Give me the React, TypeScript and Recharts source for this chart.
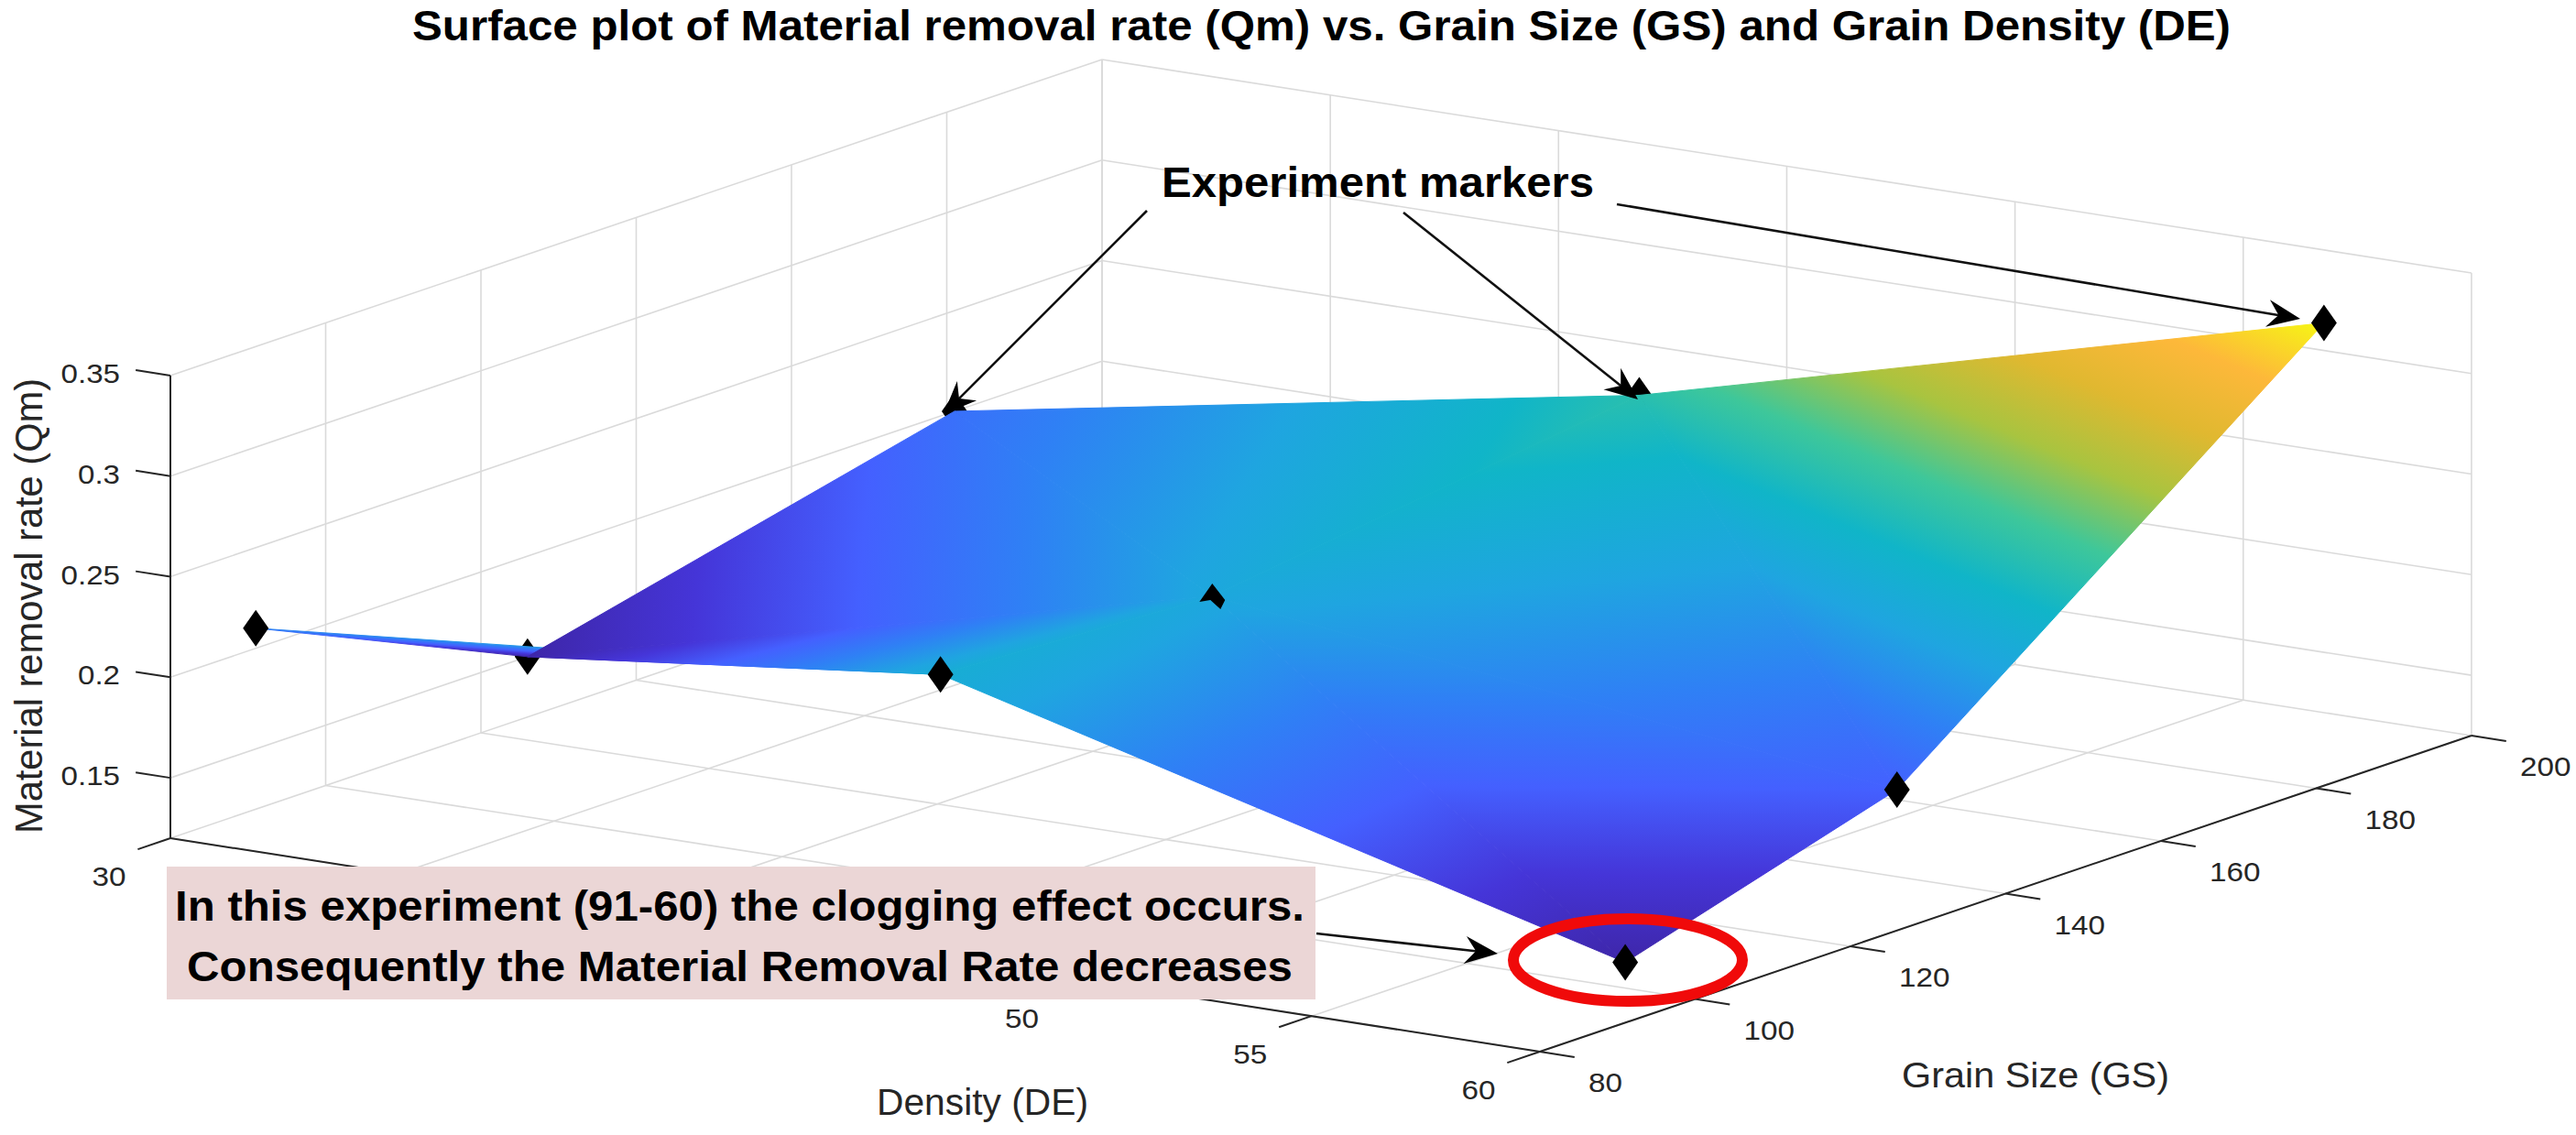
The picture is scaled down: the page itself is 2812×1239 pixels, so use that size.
import React from "react";
import { ReferenceLine, Scatter, ScatterChart, XAxis, YAxis } from "recharts";

const WIDTH = 2812;
const HEIGHT = 1239;

// axis ticks
const deTicks = [30, 35, 40, 45, 50, 55, 60];
const gsTicks = [80, 100, 120, 140, 160, 180, 200];
const qmTicks = [0.15, 0.2, 0.25, 0.3, 0.35];
const qmTickLabels = ["0.15", "0.2", "0.25", "0.3", "0.35"];
// 35, 40 and 45 sit under the pink note box in the figure
const deTickLabels = [30, 50, 55, 60];

// experiments: density x grain size
const deLevels = [30, 45, 60];
const gsLevels = [91, 126, 181];
const qmDe30 = [0.21, 0.15, 0.2];
const qmDe45 = [0.24, 0.233, 0.261];
const qmDe60 = [0.15, 0.19, 0.35];
const qmRows = [qmDe30, qmDe45, qmDe60];

// colormap as it looks in the figure
const parulaStops = [
  "#3e26a8", "#4535d8", "#4460ff", "#2f80f5", "#1fa5e0", "#10b5c8",
  "#3ec79a", "#a8c440", "#e0b830", "#fdb83a", "#f6f714",
];
const QM_FLOOR = 0.12;
const QM_TOP = 0.35;
const CLIM = [0.15, 0.35];

// the box is an orthographic view, one unit of each variable moves a fixed distance
function project(de: number, gs: number, qm: number) {
  return {
    x: 186 + (de - 30) * 49.83 + (gs - 80) * 8.475,
    y: 915 + (de - 30) * 7.767 - (gs - 80) * 2.875 - (qm - QM_FLOOR) * 2196,
  };
}

type Pt = { x: number; y: number };
const seg = (a: Pt, b: Pt) => [a, b] as [Pt, Pt];

const gridSegments: [Pt, Pt][] = [
  // floor
  ...deTicks.map((d) => seg(project(d, 80, QM_FLOOR), project(d, 200, QM_FLOOR))),
  ...gsTicks.map((g) => seg(project(30, g, QM_FLOOR), project(60, g, QM_FLOOR))),
  // wall at DE = 30
  ...gsTicks.slice(1).map((g) => seg(project(30, g, QM_FLOOR), project(30, g, QM_TOP))),
  ...qmTicks.map((q) => seg(project(30, 80, q), project(30, 200, q))),
  // wall at GS = 200
  ...deTicks.map((d) => seg(project(d, 200, QM_FLOOR), project(d, 200, QM_TOP))),
  ...qmTicks.map((q) => seg(project(30, 200, q), project(60, 200, q))),
];

const axisSegments: [Pt, Pt][] = [
  seg(project(30, 80, QM_FLOOR), project(30, 80, QM_TOP)),
  seg(project(30, 80, QM_FLOOR), project(60, 80, QM_FLOOR)),
  seg(project(60, 80, QM_FLOOR), project(60, 200, QM_FLOOR)),
  ...deTicks.map((d) => seg(project(d, 80, QM_FLOOR), project(d, 75.8, QM_FLOOR))),
  ...gsTicks.map((g) => seg(project(60, g, QM_FLOOR), project(60.76, g, QM_FLOOR))),
  ...qmTicks.map((q) => seg(project(30, 80, q), project(29.24, 80, q))),
];

const vertex = (i: number, j: number) => {
  const p = project(deLevels[i], gsLevels[j], qmRows[i][j]);
  return { ...p, qm: qmRows[i][j], i, j };
};

// index triples into the 3x3 grid
const cellIndex = [
  [[0, 0], [0, 1], [1, 0]],
  [[0, 1], [1, 1], [1, 0]],
  [[0, 1], [0, 2], [1, 1]],
  [[0, 2], [1, 2], [1, 1]],
  [[1, 0], [1, 1], [2, 0]],
  [[1, 1], [2, 1], [2, 0]],
  [[1, 1], [1, 2], [2, 1]],
  [[1, 2], [2, 2], [2, 1]],
];
const surfaceCells = cellIndex.map((c, id) => {
  const v = c.map(([i, j]) => vertex(i, j));
  return { x: v[0].x, y: v[0].y, v, id };
});

const markers = deLevels.flatMap((_, i) => gsLevels.map((_g, j) => vertex(i, j)));
const isBehind = (m: { i: number; j: number }) =>
  (m.i === 0 && m.j > 0) || (m.i === 1 && m.j === 2);
const markersBehind = markers.filter(isBehind);
const markersFront = markers.filter((m) => !isBehind(m));

const tickLabels = [
  ...deTickLabels.map((d) => {
    const p = project(d, 80, QM_FLOOR);
    return { x: p.x - 67, y: p.y + 41, text: String(d), anchor: "middle" };
  }),
  ...gsTicks.map((g) => {
    const p = project(60, g, QM_FLOOR);
    return { x: p.x + 53, y: p.y + 33, text: String(g), anchor: "start" };
  }),
  ...qmTicks.map((q, k) => {
    const p = project(30, 80, q);
    return { x: 131, y: p.y - 3, text: qmTickLabels[k], anchor: "end" };
  }),
];

function SurfaceCell(props: any) {
  const { cx, cy, payload } = props;
  const v = payload.v;
  const dx = (k: number) => cx + v[k].x - v[0].x;
  const dy = (k: number) => cy + v[k].y - v[0].y;
  const t = v.map((p: any) => (p.qm - CLIM[0]) / (CLIM[1] - CLIM[0]));
  const ax = v[1].x - v[0].x;
  const ay = v[1].y - v[0].y;
  const bx = v[2].x - v[0].x;
  const by = v[2].y - v[0].y;
  const det = ax * by - ay * bx;
  const gx = ((t[1] - t[0]) * by - (t[2] - t[0]) * ay) / det;
  const gy = ((t[2] - t[0]) * ax - (t[1] - t[0]) * bx) / det;
  const n = gx * gx + gy * gy;
  const x1 = cx - (t[0] * gx) / n;
  const y1 = cy - (t[0] * gy) / n;
  const id = `cell${payload.id}`;
  return (
    <g>
      <defs>
        <linearGradient id={id} gradientUnits="userSpaceOnUse" x1={x1} y1={y1} x2={x1 + gx / n} y2={y1 + gy / n}>
          {parulaStops.map((c, k) => (
            <stop key={k} offset={k / (parulaStops.length - 1)} stopColor={c} />
          ))}
        </linearGradient>
      </defs>
      <polygon
        points={[0, 1, 2].map((k) => `${dx(k)},${dy(k)}`).join(" ")}
        fill={`url(#${id})`}
        stroke={`url(#${id})`}
        strokeWidth={1}
      />
    </g>
  );
}

function Diamond(props: any) {
  const { cx, cy } = props;
  return (
    <polygon
      points={`${cx},${cy - 20} ${cx + 14},${cy} ${cx},${cy + 20} ${cx - 14},${cy}`}
      fill="#000"
    />
  );
}

// sits half way into the surface, only the top shows
function DiamondHidden(props: any) {
  const { cx, cy, payload } = props;
  if (payload.i === 1 && payload.j === 1) {
    return (
      <polygon
        points={`${cx},${cy - 14} ${cx + 14},${cy + 4} ${cx + 9},${cy + 14} ${cx - 2},${cy + 4} ${cx - 14},${cy + 6}`}
        fill="#000"
      />
    );
  }
  return <Diamond {...props} />;
}

function TickText(props: any) {
  const { cx, cy, payload } = props;
  const len = payload.text.replace(".", "").length * 18.5 + (payload.text.includes(".") ? 9 : 0);
  return (
    <text
      x={cx}
      y={cy + 11}
      textAnchor={payload.anchor}
      fontFamily="Liberation Sans"
      fontSize={30}
      fill="#262626"
      textLength={len}
      lengthAdjust="spacingAndGlyphs"
    >
      {payload.text}
    </text>
  );
}

function Arrow({ x1, y1, x2, y2 }: { x1: number; y1: number; x2: number; y2: number }) {
  const a = Math.atan2(y2 - y1, x2 - x1);
  const ux = Math.cos(a);
  const uy = Math.sin(a);
  const at = (back: number, side: number) =>
    `${x2 - ux * back - uy * side},${y2 - uy * back + ux * side}`;
  return (
    <g>
      <line x1={x1} y1={y1} x2={x2 - ux * 20} y2={y2 - uy * 20} stroke="#111" strokeWidth={2.6} />
      <polygon points={`${at(0, 0)} ${at(36, 15)} ${at(24, 0)} ${at(36, -15)}`} fill="#000" />
    </g>
  );
}

function Overlay() {
  const font = "Liberation Sans";
  const bold = { fontFamily: font, fontWeight: 700, fill: "#000", lengthAdjust: "spacingAndGlyphs" } as any;
  const plain = { fontFamily: font, fill: "#262626", lengthAdjust: "spacingAndGlyphs" } as any;
  return (
    <g>
      <text {...bold} x={450} y={44} fontSize={46} textLength={1985}>
        Surface plot of Material removal rate (Qm) vs. Grain Size (GS) and Grain Density (DE)
      </text>
      <text {...plain} transform="rotate(-90 46 910)" x={46} y={910} fontSize={42} textLength={497}>
        Material removal rate (Qm)
      </text>
      <text {...plain} x={957} y={1217} fontSize={40} textLength={231}>
        Density (DE)
      </text>
      <text {...plain} x={2076} y={1187} fontSize={39} textLength={292}>
        Grain Size (GS)
      </text>
      <text {...bold} x={1268} y={215} fontSize={46} textLength={472}>
        Experiment markers
      </text>
      <Arrow x1={1252} y1={230} x2={1030} y2={452} />
      <Arrow x1={1532} y1={232} x2={1788} y2={436} />
      <Arrow x1={1765} y1={223} x2={2511} y2={348} />
      <rect x={182} y={946} width={1254} height={145} fill="#ebd6d6" />
      <text {...bold} x={191} y={1005} fontSize={46} textLength={1233}>
        In this experiment (91-60) the clogging effect occurs.
      </text>
      <text {...bold} x={204} y={1071} fontSize={46} textLength={1207}>
        Consequently the Material Removal Rate decreases
      </text>
      <Arrow x1={1437} y1={1019} x2={1635} y2={1041} />
      <ellipse cx={1777} cy={1048} rx={125} ry={45} fill="none" stroke="#f00a0a" strokeWidth={12} />
    </g>
  );
}

export default function App() {
  return (
    <div style={{ position: "absolute", left: 0, top: 0, width: WIDTH, height: HEIGHT, background: "#fff" }}>
      <ScatterChart width={WIDTH} height={HEIGHT} margin={{ top: 0, right: 0, bottom: 0, left: 0 }}>
        <XAxis type="number" dataKey="x" domain={[0, WIDTH]} hide />
        <YAxis type="number" dataKey="y" domain={[0, HEIGHT]} reversed hide />
        {gridSegments.map((s, k) => (
          <ReferenceLine key={`g${k}`} segment={s} stroke="#dadada" strokeWidth={1.6} />
        ))}
        {axisSegments.map((s, k) => (
          <ReferenceLine key={`a${k}`} segment={s} stroke="#262626" strokeWidth={2} />
        ))}
        <Scatter data={tickLabels} shape={TickText} isAnimationActive={false} />
        <Scatter data={markersBehind} shape={Diamond} isAnimationActive={false} />
        <Scatter data={surfaceCells} shape={SurfaceCell} isAnimationActive={false} />
        <Scatter data={markersFront} shape={DiamondHidden} isAnimationActive={false} />
        <Scatter data={[{ x: 0, y: 0 }]} shape={Overlay} isAnimationActive={false} />
      </ScatterChart>
    </div>
  );
}
